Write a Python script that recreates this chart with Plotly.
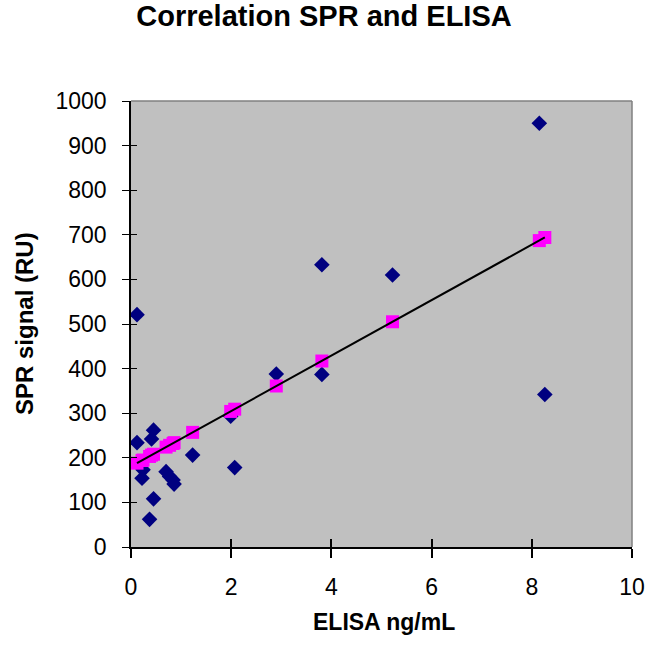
import plotly.graph_objects as go

# Measured data (dark blue diamonds)
elisa_x = [8.15, 3.81, 5.22, 0.12, 2.90, 3.81, 8.26, 1.99, 0.45, 0.41, 0.12,
           1.23, 2.07, 0.24, 0.22, 0.70, 0.77, 0.84, 0.86, 0.45, 0.37]
spr_y = [950, 633, 610, 521, 388, 387, 342, 293, 262, 242, 234,
         206, 178, 173, 154, 169, 158, 150, 141, 108, 62]

# Predicted values (magenta squares)
pred_x = [0.12, 0.22, 0.24, 0.37, 0.41, 0.45, 0.70, 0.77, 0.84, 0.86,
          1.23, 1.99, 2.07, 2.90, 3.81, 5.22, 8.15, 8.26]
pred_y = [188, 194, 195, 203, 206, 208, 224, 228, 232, 234,
          257, 304, 309, 361, 417, 505, 687, 694]

# Trendline endpoints
trend_x = [0.12, 8.26]
trend_y = [188, 694]

x_ticks = [0, 2, 4, 6, 8, 10]
y_ticks = [0, 100, 200, 300, 400, 500, 600, 700, 800, 900, 1000]

FONT = "Liberation Sans, Arial, sans-serif"

fig = go.Figure()
fig.add_trace(go.Scatter(x=elisa_x, y=spr_y, mode="markers",
                         marker=dict(symbol="diamond", size=12, color="#000080",
                                     line=dict(width=0)),
                         showlegend=False))
fig.add_trace(go.Scatter(x=pred_x, y=pred_y, mode="markers",
                         marker=dict(symbol="square", size=13, color="#FF00FF",
                                     line=dict(width=0)),
                         showlegend=False))
fig.add_trace(go.Scatter(x=trend_x, y=trend_y, mode="lines",
                         line=dict(color="black", width=2),
                         showlegend=False))
# empty trace so the overlay axes (inner tick halves) are drawn
fig.add_trace(go.Scatter(x=[None], y=[None], xaxis="x2", yaxis="y2",
                         mode="markers", showlegend=False, hoverinfo="skip"))

fig.update_layout(
    width=646, height=645,
    margin=dict(l=131, r=14, t=101, b=98, autoexpand=False),
    paper_bgcolor="white", plot_bgcolor="#C0C0C0",
    font=dict(family=FONT, size=23, color="black"),
    title=dict(text="<b>Correlation SPR and ELISA</b>", x=324 / 646, xanchor="center",
               xref="container", yref="container",
               y=1 - 16 / 645, yanchor="middle",
               font=dict(family=FONT, size=29, color="black")),
    xaxis=dict(range=[0, 10], tickvals=x_ticks, ticktext=[str(v) for v in x_ticks],
               showgrid=False, zeroline=False, showline=True, linecolor="black",
               linewidth=2, ticks="outside", ticklen=9, tickcolor="black",
               tickwidth=2, ticklabelstandoff=9, automargin=False,
               tickfont=dict(size=23)),
    xaxis2=dict(range=[0, 10], overlaying="x", anchor="y", side="bottom",
                tickvals=x_ticks, showticklabels=False, showgrid=False,
                zeroline=False, showline=False, ticks="inside", ticklen=8,
                tickcolor="black", tickwidth=2, automargin=False),
    yaxis=dict(range=[0, 1000], tickvals=y_ticks, ticktext=[str(v) for v in y_ticks],
               showgrid=False, zeroline=False, showline=True, linecolor="black",
               linewidth=1.5, ticks="outside", ticklen=7, tickcolor="black",
               tickwidth=1, ticklabelstandoff=11, automargin=False,
               tickfont=dict(size=23)),
    yaxis2=dict(range=[0, 1000], overlaying="y", anchor="x", side="left",
                tickvals=y_ticks, showticklabels=False, showgrid=False,
                zeroline=False, showline=False, ticks="inside", ticklen=6,
                tickcolor="black", tickwidth=1, automargin=False),
    shapes=[
        dict(type="line", xref="paper", yref="paper", x0=0, x1=1, y0=1, y1=1,
             line=dict(color="#808080", width=1.5)),
        dict(type="line", xref="paper", yref="paper", x0=1, x1=1, y0=0, y1=1,
             line=dict(color="#808080", width=1.5)),
    ],
    annotations=[
        dict(text="<b>ELISA ng/mL</b>", xref="paper", yref="paper",
             x=(383.5 - 131) / 501, y=0, yshift=-75, xanchor="center",
             yanchor="middle", showarrow=False,
             font=dict(family=FONT, size=23, color="black")),
        dict(text="<b>SPR signal (RU)</b>", xref="paper", yref="paper",
             x=0, xshift=24 - 131, y=0.5, xanchor="center", yanchor="middle",
             textangle=-90, showarrow=False,
             font=dict(family=FONT, size=24, color="black")),
    ],
)

fig.write_html("out.html", config={"displayModeBar": False},
               post_script="document.body.style.margin='0px';")
